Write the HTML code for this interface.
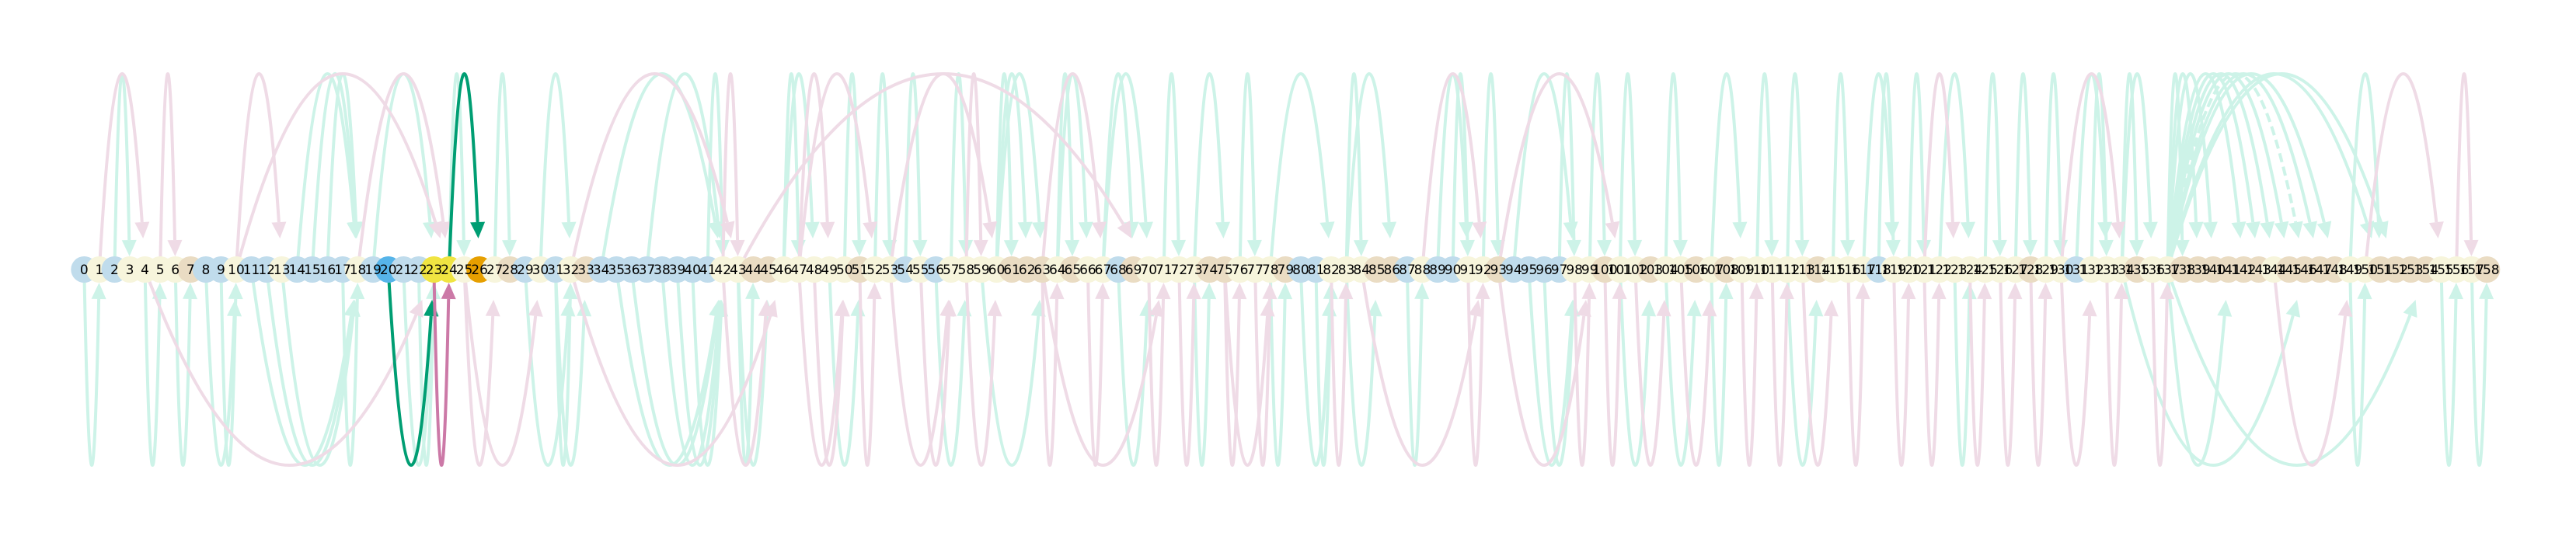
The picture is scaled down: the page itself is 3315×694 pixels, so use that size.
<!DOCTYPE html>
<html><head><meta charset="utf-8"><style>
html,body{margin:0;padding:0;background:#fff;}
svg{display:block;}
text{font-family:"DejaVu Sans","Liberation Sans",sans-serif;}
</style></head><body>
<svg id="chart" width="3315" height="694" viewBox="0 0 3315 694" xmlns="http://www.w3.org/2000/svg">
<g id="edges"></g>
<g id="hl"></g>
<g id="nodes"></g>
</svg>
<script>
const nodeCategories = [
 "BYBYYYYTBB","YBBYBBBBYB","SBBGGYOYTB","YBYTBBBBBB","BBYYTTYYYY",
 "YTYYBYBYYY","YTTTYTYYBT","YYYYTTYYYT","BBYYYTTBYB","BYYTBBBBYY",
 "TYYTYYTYTY","YYYYTYYYBY","YYYYYYYYTY","YBYYYTYYTT","TTTTYTTTTY",
 "YTTTTYYYT"].join("").split("");
const upGreen = [[2,3],[14,18],[15,18],[16,18],[19,23],[24,25],[27,28],[30,32],[34,42],[37,42],[41,42],[46,47],[46,48],[50,51],[52,53],[54,55],[57,58],[60,61],[60,62],[60,63],[64,65],[64,66],[67,69],[67,70],[71,72],[73,75],[76,77],[78,82],[83,84],[83,86],[89,91],[90,91],[92,93],[94,98],[97,98],[99,100],[101,102],[104,105],[107,109],[110,111],[112,113],[115,116],[117,119],[118,119],[120,121],[122,124],[125,126],[127,128],[129,130],[131,133],[132,133],[134,135],[134,136],[137,138],[137,139],[137,140],[137,142],[137,143],[137,144],[137,145],[137,147],[137,148],[137,151],[137,152],[149,151]];
const upGreenDashed = [[137,146]];
const upPink = [[1,4],[5,6],[10,13],[10,24],[18,24],[32,43],[42,43],[43,70],[47,49],[47,52],[53,60],[58,59],[63,67],[88,92],[93,101],[121,123],[130,134],[150,155],[156,157]];
const downGreen = [[0,1],[4,5],[6,7],[8,10],[9,10],[11,18],[12,18],[13,18],[17,18],[21,23],[22,23],[29,32],[31,32],[31,33],[35,42],[36,42],[38,42],[39,42],[40,42],[43,44],[43,45],[49,51],[56,58],[59,63],[68,70],[73,74],[78,79],[80,82],[81,82],[83,85],[87,88],[95,98],[96,98],[101,103],[104,106],[107,108],[112,114],[123,124],[134,146],[137,141],[137,154],[149,150],[155,156],[157,158]];
const downPink = [[4,23],[25,27],[25,30],[32,46],[42,45],[47,50],[48,50],[51,52],[53,57],[55,57],[58,60],[63,64],[63,71],[66,67],[70,71],[72,73],[75,76],[75,78],[77,78],[82,83],[84,92],[91,92],[93,99],[98,99],[100,101],[102,104],[105,107],[109,110],[111,112],[113,115],[116,117],[119,120],[121,122],[124,125],[126,127],[128,129],[130,132],[133,134],[136,137],[144,149]];
const hlUpGreen = [[24,26]];
const hlDownGreen = [[20,23]];
const hlDownPink = [[23,24]];

const NS = "http://www.w3.org/2000/svg";
const X0 = 108.3, DX = 19.57, BASE = 347, H = 504;
const xOf = i => X0 + DX * i;
const colorOf = {B:"#c0dcec",Y:"#f7f5dc",T:"#eadcc3",S:"#56b4e9",G:"#f0e442",O:"#e69f00"};

function solveT(d, h){
  const k = d/(2*h);
  return (1+Math.sqrt(Math.max(0,1-4*k)))/2;
}
function drawEdge(group, s, t, up, color, dashed, name){
  const x1 = xOf(s), x2 = xOf(t);
  const h = up ? -H : H;
  const span = Math.abs(t - s);
  const tipD = up ? (span === 1 ? -17 : -40) : (span === 1 ? 17 : 39);
  const tt = solveT(tipD, h);
  const tipX = x1 + (x2 - x1) * tt, tipY = BASE + tipD;
  let dx = x2 - x1, dy = 2*h*(1-2*tt);
  const len = Math.hypot(dx, dy); dx/=len; dy/=len;
  const L = 21, W = 9.5;
  const bx = tipX - dx*L, by = tipY - dy*L;
  const tb = solveT(by - BASE, h);
  const cx = (x1 + x2)/2, cy = BASE + h;
  const c1x = x1 + (cx - x1)*tb, c1y = BASE + (cy - BASE)*tb;
  const ex = x1 + (x2 - x1)*tb, ey = BASE + 2*h*tb*(1-tb);
  const p = document.createElementNS(NS, "path");
  p.setAttribute("d", `M${x1},${BASE} Q${c1x},${c1y} ${ex},${ey}`);
  p.setAttribute("fill", "none");
  p.setAttribute("stroke", color);
  p.setAttribute("stroke-width", "4");
  if (dashed) p.setAttribute("stroke-dasharray", "12,6");
  
  
  group.appendChild(p);
  const a = document.createElementNS(NS, "polygon");
  const px = -dy, py = dx;
  a.setAttribute("points", `${tipX},${tipY} ${bx+px*W},${by+py*W} ${bx-px*W},${by-py*W}`);
  a.setAttribute("fill", color);
  
  
  group.appendChild(a);
}
const gE = document.getElementById("edges"), gH = document.getElementById("hl"), gN = document.getElementById("nodes");
const LG = "#cdf3e8", LP = "#efdbe6";
upGreen.forEach(e => drawEdge(gE, e[0], e[1], true, LG, false, "edge-" + e[0] + "-" + e[1]));
upGreenDashed.forEach(e => drawEdge(gE, e[0], e[1], true, LG, true, "edge-" + e[0] + "-" + e[1]));
upPink.forEach(e => drawEdge(gE, e[0], e[1], true, LP, false, "edge-" + e[0] + "-" + e[1]));
downGreen.forEach(e => drawEdge(gE, e[0], e[1], false, LG, false, "edge-" + e[0] + "-" + e[1]));
downPink.forEach(e => drawEdge(gE, e[0], e[1], false, LP, false, "edge-" + e[0] + "-" + e[1]));
hlUpGreen.forEach(e => drawEdge(gH, e[0], e[1], true, "#009e73", false, "highlight-edge-" + e[0] + "-" + e[1]));
hlDownGreen.forEach(e => drawEdge(gH, e[0], e[1], false, "#009e73", false, "highlight-edge-" + e[0] + "-" + e[1]));
hlDownPink.forEach(e => drawEdge(gH, e[0], e[1], false, "#cc79a7", false, "highlight-edge-" + e[0] + "-" + e[1]));

nodeCategories.forEach((c, i) => {
  const ci = document.createElementNS(NS, "circle");
  ci.setAttribute("cx", xOf(i)); ci.setAttribute("cy", BASE); ci.setAttribute("r", 17);
  ci.setAttribute("fill", colorOf[c] || colorOf.Y);
  
  
  gN.appendChild(ci);
});
nodeCategories.forEach((c, i) => {
  const t = document.createElementNS(NS, "text");
  t.setAttribute("x", xOf(i)); t.setAttribute("y", BASE + 6);
  t.setAttribute("text-anchor", "middle");
  t.setAttribute("font-size", "17");
  t.setAttribute("fill", "#000");
  t.textContent = String(i);
  
  
  gN.appendChild(t);
});
</script>
</body></html>
